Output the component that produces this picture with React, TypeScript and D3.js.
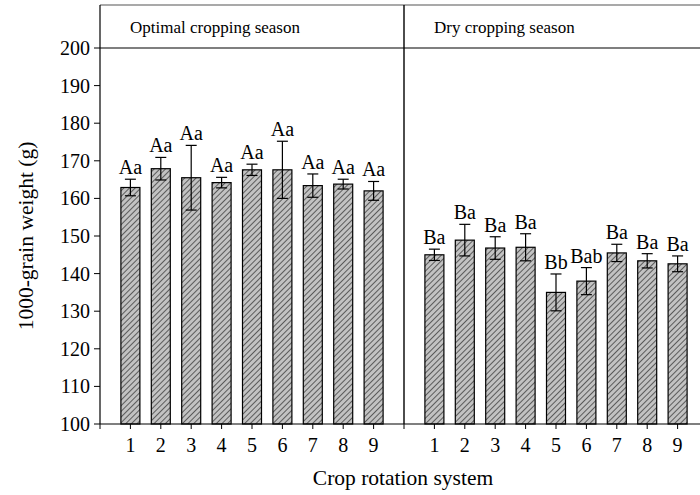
import * as d3 from "d3";

const systems = ["1", "2", "3", "4", "5", "6", "7", "8", "9"];
const seasons = ["Optimal cropping season", "Dry cropping season"];

const optimalMeans = [162.9, 167.9, 165.5, 164.2, 167.6, 167.6, 163.4, 163.8, 162.0];
const optimalErr = [2.2, 3.0, 8.6, 1.4, 1.5, 7.6, 3.1, 1.3, 2.5];
const optimalLetters = ["Aa", "Aa", "Aa", "Aa", "Aa", "Aa", "Aa", "Aa", "Aa"];

const dryMeans = [145.0, 148.9, 146.8, 147.0, 135.0, 138.0, 145.5, 143.4, 142.6];
const dryErr = [1.5, 4.2, 3.0, 3.6, 4.9, 3.6, 2.3, 1.9, 2.1];
const dryLetters = ["Ba", "Ba", "Ba", "Ba", "Bb", "Bab", "Ba", "Ba", "Ba"];

const yTicks = [100, 110, 120, 130, 140, 150, 160, 170, 180, 190, 200];

const W = 700;
const H = 495;
const left = 100;
const frameTop = 5;
const font = "'Liberation Serif', 'Times New Roman', serif";

export default function App() {
  const x = d3.scaleLinear().domain([0, 20]).range([left, 708]);
  const y = d3.scaleLinear().domain([100, 200]).range([424, 48]);
  const barW = 19;
  const capW = 11;

  const groups = [
    { offset: 0, means: optimalMeans, err: optimalErr, letters: optimalLetters },
    { offset: 10, means: dryMeans, err: dryErr, letters: dryLetters },
  ];

  return (
    <svg
      width={W}
      height={H}
      style={{ position: "absolute", left: 0, top: 0, background: "#fff" }}
      fontFamily={font}
    >
      <defs>
        <pattern
          id="hatch"
          width={4}
          height={4}
          patternUnits="userSpaceOnUse"
          patternTransform="rotate(45)"
        >
          <rect width={4} height={4} fill="#c2c2c2" />
          <line x1={0} y1={0} x2={0} y2={4} stroke="#222" strokeWidth={1.3} />
        </pattern>
      </defs>

      {/* bars, error bars, letters */}
      {groups.map((g, gi) =>
        g.means.map((m, i) => {
          const cx = x(g.offset + i + 1);
          const hi = m + g.err[i];
          const lo = m - g.err[i];
          return (
            <g key={`${gi}-${i}`}>
              <rect
                x={cx - barW / 2}
                y={y(m)}
                width={barW}
                height={y(100) - y(m)}
                fill="url(#hatch)"
                stroke="#000"
                strokeWidth={1.2}
              />
              <line x1={cx} x2={cx} y1={y(hi)} y2={y(lo)} stroke="#000" strokeWidth={1.2} />
              <line x1={cx - capW / 2} x2={cx + capW / 2} y1={y(hi)} y2={y(hi)} stroke="#000" strokeWidth={1.2} />
              <line x1={cx - capW / 2} x2={cx + capW / 2} y1={y(lo)} y2={y(lo)} stroke="#000" strokeWidth={1.2} />
              <text x={cx} y={y(hi) - 5} textAnchor="middle" fontSize={20} fill="#000">
                {g.letters[i]}
              </text>
            </g>
          );
        })
      )}

      {/* frame */}
      <line x1={left} x2={W} y1={frameTop} y2={frameTop} stroke="#555" strokeWidth={1.2} />
      <line x1={left} x2={W} y1={y(200)} y2={y(200)} stroke="#000" strokeWidth={1.2} />
      <line x1={left} x2={left} y1={frameTop} y2={y(100)} stroke="#000" strokeWidth={1.2} />
      <line x1={x(10)} x2={x(10)} y1={frameTop} y2={y(100)} stroke="#000" strokeWidth={1.4} />
      <line x1={left} x2={W} y1={y(100)} y2={y(100)} stroke="#000" strokeWidth={1.2} />

      {/* season titles */}
      {seasons.map((s, i) => (
        <text key={s} x={x(i * 10) + 30} y={33} fontSize={17} fill="#000">
          {s}
        </text>
      ))}

      {/* y axis ticks */}
      {yTicks.map((t) => (
        <g key={t}>
          <line x1={left - 6} x2={left} y1={y(t)} y2={y(t)} stroke="#000" strokeWidth={1} />
          <text x={left - 10} y={y(t)} dy="0.35em" textAnchor="end" fontSize={20} fill="#000">
            {t}
          </text>
        </g>
      ))}

      {/* x axis ticks */}
      {d3.range(0, 21).map((k) => (
        <line key={k} x1={x(k)} x2={x(k)} y1={y(100)} y2={y(100) + 5} stroke="#000" strokeWidth={1} />
      ))}
      {groups.map((g, gi) =>
        systems.map((s, i) => (
          <text
            key={`${gi}-${s}`}
            x={x(g.offset + i + 1)}
            y={452}
            textAnchor="middle"
            fontSize={20}
            fill="#000"
          >
            {s}
          </text>
        ))
      )}

      {/* axis titles */}
      <text x={403} y={485} textAnchor="middle" fontSize={21.5} fill="#000">
        Crop rotation system
      </text>
      <text
        transform={`translate(33, ${(y(100) + y(200)) / 2}) rotate(-90)`}
        textAnchor="middle"
        fontSize={21.5}
        fill="#000"
      >
        1000-grain weight (g)
      </text>
    </svg>
  );
}
